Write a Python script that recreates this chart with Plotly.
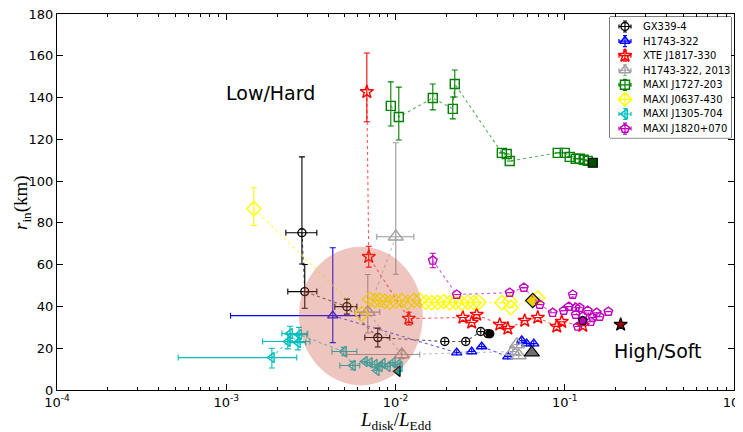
import plotly.graph_objects as go

# ---------------- data ----------------
# GX339-4
gx_x = [0.00280, 0.00291, 0.00516, 0.00786, 0.01955, 0.0260, 0.0319, 0.0351]
gx_y = [75.3, 47.1, 39.9, 25.1, 23.2, 23.2, 28.0, 27.0]
gx_ep = [36.3, 13.0, 3.6, 4.5, 0, 0, 0, 0]
gx_em = [15.0, 8.0, 3.6, 4.5, 0, 0, 0, 0]
gx_xp = [0.00063, 0.00052, 0.00075, 0.00139, 0, 0, 0, 0]
gx_xm = [0.00055, 0.00060, 0.00078, 0.00127, 0, 0, 0, 0]
gx_last = ([0.0361], [26.9])

# H1743-322
h_x = [0.00426, 0.0230, 0.0282, 0.0323, 0.0461, 0.0557, 0.0596, 0.0656]
h_y = [35.6, 17.9, 18.4, 20.8, 16.0, 23.7, 22.2, 22.2]
h_ep = [32.5, 0, 0, 0, 0, 0, 0, 0]
h_em = [12.9, 0, 0, 0, 0, 0, 0, 0]
h_xp = [0.00189, 0, 0, 0, 0, 0, 0, 0]
h_xm = [0.0032, 0, 0, 0, 0, 0, 0, 0]

# XTE J1817-330
r_x = [0.00677, 0.00695, 0.01198, 0.0250, 0.0282, 0.0302, 0.0413, 0.0461,
       0.0580, 0.0693, 0.0897, 0.0960, 0.1277]
r_y = [142.7, 63.8, 34.2, 34.7, 32.3, 36.1, 31.3, 29.4, 33.2, 34.7, 30.4, 32.7, 30.8]
r_ep = [18.6, 5.0, 3.0, 0, 0, 0, 0, 0, 0, 0, 0, 0, 0]
r_em = [14.3, 5.0, 3.0, 0, 0, 0, 0, 0, 0, 0, 0, 0, 0]
r_last = ([0.214], [31.3])

# H1743-322, 2013
g_x = [0.01004, 0.00686, 0.01089, 0.0493, 0.0521, 0.0535]
g_y = [73.4, 37.3, 17.0, 18.4, 21.8, 16.5]
g_ep = [45.0, 18.0, 2.0, 0, 0, 0]
g_em = [18.0, 10.0, 2.0, 0, 0, 0]
g_xp = [0.00279, 0.00122, 0.00303, 0, 0, 0]
g_xm = [0.00229, 0.00111, 0.00573, 0, 0, 0]
g_last = ([0.0639], [17.9])

# MAXI J1727-203
gr_x = [0.00938, 0.01046, 0.01661, 0.0218, 0.0224, 0.0425, 0.0454, 0.0473,
        0.0909, 0.1000, 0.1070, 0.1161, 0.1226, 0.1295, 0.1367]
gr_y = [136.0, 130.7, 139.8, 134.6, 146.5, 113.5, 113.0, 109.6,
        113.5, 113.5, 111.6, 110.7, 110.7, 110.2, 109.7]
gr_ep = [11.5, 14.3, 6.7, 5.7, 6.7, 0, 0, 0, 0, 0, 0, 0, 0, 0, 0]
gr_em = [9.6, 11.0, 5.7, 4.8, 6.2, 0, 0, 0, 0, 0, 0, 0, 0, 0, 0]
gr_last = ([0.1464], [108.8])

# MAXI J0637-430
y_x = [0.001455, 0.00632, 0.00705, 0.00755, 0.00808, 0.00865, 0.00925, 0.01004,
       0.01089, 0.01179, 0.01283, 0.01392, 0.01510, 0.01638, 0.01778, 0.01929,
       0.02093, 0.02271, 0.02464, 0.02673, 0.02901, 0.03105, 0.0425, 0.0473,
       0.0480, 0.0693]
y_y = [86.8, 36.5, 43.5, 42.8, 43.0, 42.5, 42.0, 42.5, 42.8, 42.0, 42.8, 43.0,
       42.0, 41.8, 42.0, 42.3, 41.8, 42.0, 41.5, 42.0, 41.8, 42.0, 41.8, 42.5,
       39.5, 44.0]
y_ep = [10.0] + [0] * 25
y_em = [8.0] + [0] * 25
y_last = ([0.0647], [42.8])

# MAXI J1305-704
c_x = [0.00186, 0.00231, 0.00238, 0.00265, 0.00269, 0.00495, 0.00560, 0.00659,
       0.00705, 0.00755, 0.00775, 0.00808, 0.00841, 0.00901, 0.00964, 0.01032, 0.01060]
c_y = [15.5, 23.2, 27.0, 22.7, 26.5, 18.4, 11.7, 13.6, 13.1, 12.2, 9.3, 11.2,
       12.7, 11.2, 13.1, 12.2, 11.2]
c_ep = [4.5, 3.5, 3.5, 3.5, 3.5, 2.0, 2.0, 0, 0, 0, 0, 0, 0, 0, 0, 0, 0]
c_em = [5.0, 3.5, 3.5, 3.5, 3.5, 2.0, 2.0, 0, 0, 0, 0, 0, 0, 0, 0, 0, 0]
c_xp = [0.00075, 0.00081, 0.00065, 0.0003, 0.0003, 0.00096, 0.00055, 0, 0, 0, 0, 0, 0, 0, 0, 0, 0]
c_xm = [0.00134, 0.00067, 0.00025, 0.0003, 0.0003, 0.00074, 0.00091, 0, 0, 0, 0, 0, 0, 0, 0, 0, 0]
c_last = ([0.01032], [9.0])

# MAXI J1820+070
m_x = [0.01661, 0.0230, 0.0473, 0.0573, 0.0712, 0.0849, 0.0986, 0.1056, 0.1115,
       0.1161, 0.1161, 0.1226, 0.1194, 0.1277, 0.1367, 0.1424, 0.1464, 0.1545,
       0.1609, 0.1809]
m_y = [62.0, 45.7, 46.6, 49.0, 40.9, 37.0, 38.0, 39.9, 45.7, 39.4, 36.1, 39.4,
       30.4, 35.1, 38.0, 32.7, 34.7, 37.0, 35.1, 37.5]
m_ep = [3.5] + [0] * 19
m_em = [3.5] + [0] * 19
m_last = ([0.1277], [33.2])

x_tick_vals = [1e-4, 1e-3, 1e-2, 1e-1, 1e0]
x_tick_text = ["10<sup>-4</sup>", "10<sup>-3</sup>", "10<sup>-2</sup>",
               "10<sup>-1</sup>", "10<sup>0</sup>"]
y_tick_vals = [0, 20, 40, 60, 80, 100, 120, 140, 160, 180]

# ---------------- figure ----------------
fig = go.Figure()
legend_items = []


def rgba(hexcol, a):
    h = hexcol.lstrip("#")
    r, g, b = int(h[0:2], 16), int(h[2:4], 16), int(h[4:6], 16)
    return f"rgba({r},{g},{b},{a})"


def add_series(name, x, y, color, symbol, size, ep=None, em=None, xp=None, xm=None,
               ecolor=None, last=None, lastfill=None):
    ecolor = ecolor or color
    kw = {}
    if ep is not None:
        kw["error_y"] = dict(type="data", array=ep, arrayminus=em, symmetric=False,
                             color=ecolor, thickness=1.1, width=3)
    if xp is not None:
        kw["error_x"] = dict(type="data", array=xp, arrayminus=xm, symmetric=False,
                             color=ecolor, thickness=1.1, width=3)
    fig.add_trace(go.Scatter(
        x=x, y=y, name=name, mode="lines+markers", showlegend=False,
        line=dict(color=rgba(color, 0.65), dash="dot", width=1.1),
        marker=dict(symbol=symbol + "-open", size=size, color=color,
                    line=dict(width=1.4, color=color)),
        **kw))
    if last is not None:
        fig.add_trace(go.Scatter(
            x=last[0], y=last[1], mode="markers", showlegend=False,
            marker=dict(symbol=symbol, size=size, color=lastfill,
                        line=dict(width=1.2, color="black"))))
    legend_items.append((name, color, symbol, size))


add_series("GX339-4", gx_x, gx_y, "#000000", "circle", 8, gx_ep, gx_em, gx_xp, gx_xm,
           last=gx_last, lastfill="black")
add_series("H1743-322", h_x, h_y, "#0000ff", "triangle-up", 9, h_ep, h_em, h_xp, h_xm)
add_series("XTE J1817-330", r_x, r_y, "#ff0000", "star", 10, r_ep, r_em,
           last=r_last, lastfill="#a00000")
add_series("H1743-322, 2013", g_x, g_y, "#a0a0a0", "triangle-up", 13, g_ep, g_em, g_xp, g_xm,
           ecolor="#9a9a9a", last=g_last, lastfill="#707070")
add_series("MAXI J1727-203", gr_x, gr_y, "#008000", "square", 9, gr_ep, gr_em,
           last=gr_last, lastfill="#004d00")
add_series("MAXI J0637-430", y_x, y_y, "#ffff00", "diamond", 11, y_ep, y_em,
           last=y_last, lastfill="#e6d200")
add_series("MAXI J1305-704", c_x, c_y, "#00bfbf", "triangle-left", 9, c_ep, c_em, c_xp, c_xm,
           last=c_last, lastfill="#00a0a0")
add_series("MAXI J1820+070", m_x, m_y, "#bf00bf", "pentagon", 9, m_ep, m_em,
           last=m_last, lastfill="#bf00bf")

# highlighted ellipse (drawn above the points, semi-transparent)
fig.add_shape(type="circle", xref="x", yref="y", x0=0.00269, x1=0.01450, y0=2.2, y1=68.6,
              fillcolor="rgb(205,92,72)", opacity=0.35, line=dict(width=0), layer="above")

fig.add_annotation(x=-2.737, y=142.2, xref="x", yref="y", text="Low/Hard", showarrow=False,
                   font=dict(family="DejaVu Sans", size=19, color="black"))
fig.add_annotation(x=-0.451, y=18.9, xref="x", yref="y", text="High/Soft", showarrow=False,
                   font=dict(family="DejaVu Sans", size=19, color="black"))

# axis titles
fig.add_annotation(xref="paper", yref="paper", x=0.5007, y=-0.083, xanchor="center",
                   yanchor="middle",
                   text="<i>L</i><sub>disk</sub>/<i>L</i><sub>Edd</sub>", showarrow=False,
                   font=dict(family="Liberation Serif", size=19, color="black"))
fig.add_annotation(xref="paper", yref="paper", x=-0.0724, y=0.50, textangle=-90,
                   xanchor="left", yanchor="middle",
                   text="<i>r</i><sub>in</sub>(km)", showarrow=False,
                   font=dict(family="Liberation Serif", size=19, color="black"))

# ---- hand-drawn legend (box in its own hidden axes, pixel-like units) ----
fig.add_shape(type="rect", xref="paper", yref="paper", x0=0.8168, x1=0.9956, y0=0.6706, y1=0.992,
              fillcolor="white", line=dict(color="black", width=1), layer="below")
for i, (name, color, symbol, size) in enumerate(legend_items):
    row = 9.5 + 14.6 * i
    fig.add_trace(go.Scatter(
        x=[15], y=[row], xaxis="x2", yaxis="y2", mode="markers", showlegend=False,
        hoverinfo="skip",
        marker=dict(symbol=symbol + "-open", size=min(size, 10), color=color,
                    line=dict(width=1.5, color=color)),
        error_x=dict(type="constant", value=6, color=color, thickness=1.2, width=2),
        error_y=dict(type="constant", value=5.5, color=color, thickness=1.2, width=2)))
    fig.add_annotation(xref="x2", yref="y2", x=31, y=row, text=name, xanchor="left",
                       showarrow=False, font=dict(family="DejaVu Sans", size=10, color="black"))

minor_vals = [m * 10 ** e for e in (-4, -3, -2, -1) for m in range(2, 10)]

# page body adds an 8px offset, so the figure is 8px smaller and margins shifted
fig.update_layout(
    width=735, height=424,
    margin=dict(l=49, r=9, t=6, b=42),
    paper_bgcolor="white", plot_bgcolor="white",
    font=dict(family="DejaVu Sans", size=13, color="black"),
    showlegend=False,
    xaxis=dict(type="log", range=[-4, 0], tickvals=x_tick_vals, ticktext=x_tick_text,
               ticks="inside", ticklen=6, tickcolor="black", showline=True, linecolor="black",
               linewidth=1, mirror="ticks", showgrid=False, zeroline=False, automargin=False,
               ticklabeloverflow="allow",
               minor=dict(tickvals=minor_vals, ticks="inside", ticklen=3, tickcolor="black",
                          showgrid=False)),
    yaxis=dict(range=[0, 180], tickvals=y_tick_vals, ticks="inside", ticklen=6,
               tickcolor="black", showline=True, linecolor="black", linewidth=1,
               mirror="ticks", showgrid=False, zeroline=False, automargin=False,
               ticklabeloverflow="allow"),
    xaxis2=dict(domain=[0.8168, 0.9956], range=[0, 121], anchor="y2", visible=False,
                fixedrange=True),
    yaxis2=dict(domain=[0.6706, 0.992], range=[121, 0], anchor="x2", visible=False,
                fixedrange=True),
)

fig.write_html("out.html")
